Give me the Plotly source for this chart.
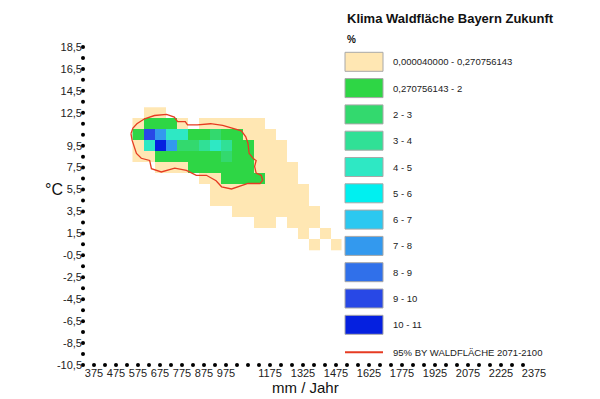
import plotly.graph_objects as go

# ---------------- data ----------------
precip_mm = [575, 625, 675, 725, 775, 825, 875, 925, 975, 1025, 1075, 1125,
             1175, 1225, 1275, 1325, 1375, 1425, 1475]
temp_c = [12.5, 11.5, 10.5, 9.5, 8.5, 7.5, 6.5, 5.5, 4.5, 3.5, 2.5, 1.5, 0.5]
N = None
share_pct = [
    [N, 0.1, 0.1, N, N, N, N, N, N, N, N, N, N, N, N, N, N, N, N],
    [0.1, 1, 1, 1, 0.1, N, 0.1, 0.1, 0.1, 0.1, 0.1, 0.1, N, N, N, N, N, N, N],
    [1, 9.5, 7.5, 4.5, 4.5, 1, 1, 2.5, 1, 1, 0.1, 0.1, 0.1, N, N, N, N, N, N],
    [0.1, 4.5, 10.5, 7.5, 2.5, 2.5, 3.5, 4.5, 3.5, 1, 1, 0.1, 0.1, 0.1, N, N, N, N, N],
    [0.1, 0.1, 1, 1, 1, 1, 1, 1, 2.5, 1, 1, 0.1, 0.1, 0.1, N, N, N, N, N],
    [N, N, 0.1, 0.1, 0.1, 1, 1, 1, 1, 1, 1, 0.1, 0.1, 0.1, 0.1, N, N, N, N],
    [N, N, N, N, N, N, 0.1, 0.1, 1, 1, 1, 1, 0.1, 0.1, 0.1, N, N, N, N],
    [N, N, N, N, N, N, N, 0.1, 0.1, 0.1, 0.1, 0.1, 0.1, 0.1, 0.1, 0.1, N, N, N],
    [N, N, N, N, N, N, N, 0.1, 0.1, 0.1, 0.1, 0.1, 0.1, 0.1, 0.1, 0.1, N, N, N],
    [N, N, N, N, N, N, N, N, N, 0.1, 0.1, 0.1, 0.1, 0.1, 0.1, 0.1, 0.1, N, N],
    [N, N, N, N, N, N, N, N, N, N, N, 0.1, 0.1, N, 0.1, 0.1, 0.1, N, N],
    [N, N, N, N, N, N, N, N, N, N, N, N, N, N, N, 0.1, N, 0.1, N],
    [N, N, N, N, N, N, N, N, N, N, N, N, N, N, N, N, 0.1, N, 0.1],
]

# 95 % contour of Bavarian forest area 2071-2100 (mm, degC)
contour_x = [543, 552, 570, 605, 650, 705, 740, 755, 790, 800, 845, 905, 960,
             1005, 1045, 1065, 1075, 1080, 1100, 1112, 1105, 1112, 1135, 1142,
             1130, 1075, 1030, 1000, 955, 930, 886, 840, 795, 742, 681, 636,
             628, 590, 568, 548, 543]
contour_y = [10.6, 11.1, 11.5, 11.95, 12.25, 12.35, 12.1, 11.7, 11.7, 11.4,
             11.4, 11.5, 11.35, 11.1, 10.85, 10.3, 9.7, 8.8, 8.3, 8.15, 7.6,
             7.0, 6.8, 6.35, 6.05, 6.05, 5.75, 5.55, 5.75, 6.3, 6.8, 6.8, 7.25,
             7.45, 7.1, 7.4, 8.15, 8.35, 8.8, 10.0, 10.6]

class_edges = [0, 0.270756143, 2, 3, 4, 5, 6, 7, 8, 9, 10, 11]
class_labels = ["0,000040000 - 0,270756143", "0,270756143 - 2", "2 - 3", "3 - 4",
                "4 - 5", "5 - 6", "6 - 7", "7 - 8", "8 - 9", "9 - 10", "10 - 11"]
class_colors = ["#ffe7b3", "#2ed645", "#33d96e", "#30e096", "#2ee8c4", "#00f0f0",
                "#2cc8f0", "#3399ee", "#3070ea", "#2848e6", "#0520e0"]

x_tickvals = [375, 475, 575, 675, 775, 875, 975, 1175, 1325, 1475, 1625, 1775,
              1925, 2075, 2225, 2375]
y_tickvals = [18.5, 16.5, 14.5, 12.5, 9.5, 7.5, 5.5, 3.5, 1.5, -0.5, -2.5, -4.5,
              -6.5, -8.5, -10.5]
x_dots = list(range(375, 2326, 50))
y_dots = [v + 0.5 for v in range(-11, 19)]

legend_title = "Klima Waldfläche Bayern Zukunft"
legend_unit = "%"
contour_label = "95% BY WALDFLÄCHE 2071-2100"
x_title = "mm / Jahr"
y_title = "°C"

# ---------------- layout helpers ----------------
W, H = 600, 399
L, R, T, B = 83, 55, 36, 34
PW, PH = W - L - R, H - T - B


def PX(px):
    return (px - L) / PW


def PY(py):
    return (H - B - py) / PH


def fmt(v):
    return ("%g" % v).replace(".", ",")


zmax = class_edges[-1]
colorscale = []
for i, c in enumerate(class_colors):
    colorscale.append([class_edges[i] / zmax, c])
    colorscale.append([class_edges[i + 1] / zmax, c])

fig = go.Figure()
fig.add_trace(go.Heatmap(x=precip_mm, y=temp_c, z=share_pct, colorscale=colorscale,
                         zmin=0, zmax=zmax, showscale=False, hoverongaps=False))
fig.add_trace(go.Scatter(x=contour_x, y=contour_y, mode="lines",
                         line=dict(color="#e63b22", width=1.3), showlegend=False))
# dotted axes
fig.add_trace(go.Scatter(x=x_dots, y=[y_dots[0]] * len(x_dots), mode="markers",
                         marker=dict(color="black", size=4), cliponaxis=False,
                         showlegend=False))
fig.add_trace(go.Scatter(x=[325] * len(y_dots), y=y_dots, mode="markers",
                         marker=dict(color="black", size=4), cliponaxis=False,
                         showlegend=False))

tick_font = dict(family="Liberation Sans, Arial", size=11, color="#222")
fig.update_xaxes(range=[325, 2425], showgrid=False, zeroline=False, showline=False,
                 tickvals=x_tickvals, ticktext=[str(v) for v in x_tickvals],
                 ticks="", tickangle=0, tickfont=tick_font)
fig.update_yaxes(range=[-10.5, 19.5], showgrid=False, zeroline=False, showline=False,
                 tickvals=y_tickvals, ticktext=[fmt(v) for v in y_tickvals],
                 ticks="", tickfont=tick_font)

shapes = []
annotations = []
lab_font = dict(family="Liberation Sans, Arial", size=9.5, color="#222")
sw_top0, sw_step, sw_h = 52.3, 26.3, 19
for i, (lab, col) in enumerate(zip(class_labels, class_colors)):
    top = sw_top0 + i * sw_step
    shapes.append(dict(type="rect", xref="paper", yref="paper",
                       x0=PX(345), x1=PX(383), y0=PY(top + sw_h), y1=PY(top),
                       fillcolor=col, line=dict(color="#a8a8a8", width=1)))
    annotations.append(dict(xref="paper", yref="paper", x=PX(391), y=PY(top + sw_h / 2),
                            text=lab, showarrow=False, xanchor="left", yanchor="middle",
                            font=lab_font))
shapes.append(dict(type="line", xref="paper", yref="paper", x0=PX(345), x1=PX(383),
                   y0=PY(352.3), y1=PY(352.3), line=dict(color="#e63b22", width=2)))
annotations.append(dict(xref="paper", yref="paper", x=PX(391), y=PY(352.3),
                        text=contour_label, showarrow=False, xanchor="left",
                        yanchor="middle", font=lab_font))
annotations.append(dict(xref="paper", yref="paper", x=PX(345), y=PY(18.5),
                        text="<b>" + legend_title + "</b>", showarrow=False,
                        xanchor="left", yanchor="middle",
                        font=dict(family="Liberation Sans, Arial", size=13, color="#111")))
annotations.append(dict(xref="paper", yref="paper", x=PX(345), y=PY(39.5),
                        text="<b>" + legend_unit + "</b>", showarrow=False,
                        xanchor="left", yanchor="middle",
                        font=dict(family="Liberation Sans, Arial", size=10, color="#111")))
annotations.append(dict(xref="paper", yref="paper", x=PX(305), y=PY(387),
                        text=x_title, showarrow=False, xanchor="center", yanchor="middle",
                        font=dict(family="Liberation Sans, Arial", size=15, color="#111")))
annotations.append(dict(xref="paper", yref="paper", x=PX(54), y=PY(189),
                        text=y_title, showarrow=False, xanchor="center", yanchor="middle",
                        font=dict(family="Liberation Sans, Arial", size=16, color="#111")))

fig.update_layout(width=W, height=H, margin=dict(l=L, r=R, t=T, b=B, pad=0),
                  paper_bgcolor="white", plot_bgcolor="white", showlegend=False,
                  shapes=shapes, annotations=annotations)

fig.write_html("out.html", config={"displayModeBar": False},
               post_script="document.body.style.margin='0';"
               "document.body.style.overflow='hidden';")
